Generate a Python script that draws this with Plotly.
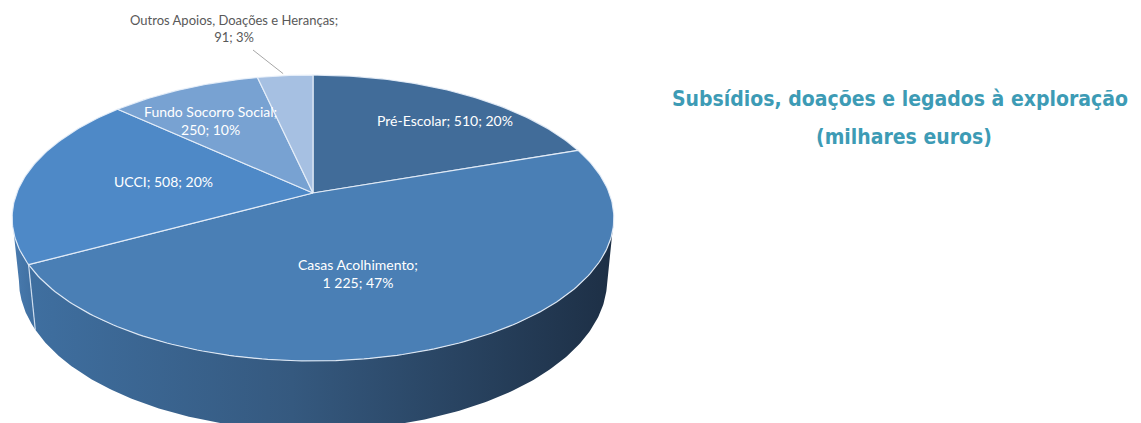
import numpy as np
import plotly.graph_objects as go

# ---- data ----
labels = ["Pré-Escolar", "Casas Acolhimento", "UCCI", "Fundo Socorro Social",
          "Outros Apoios, Doações e Heranças"]
values = [510, 1225, 508, 250, 91]          # milhares de euros
pct_labels = [20, 47, 20, 10, 3]            # percentagens publicadas

# ---- style ----
top_colors = ["#416C99", "#4A7FB5", "#4E89C7", "#78A2D2", "#A6C0E2"]
wall_colors = {
    1: [[0, "#3F6FA0"], [0.45, "#35597F"], [1, "#1D2F45"]],
    2: [[0, "#4A7CB0"], [1, "#3F6E9F"]],
}
label_style = {
    0: dict(x=445, y=120, color="white"),
    1: dict(x=358, y=273, color="white"),
    2: dict(x=163, y=181, color="white"),
    3: dict(x=210, y=120, color="white"),
    4: dict(x=234, y=28, color="#595959"),
}
W, H = 1141, 423

# ---- perspective projection of a tilted disc (pixel space) ----
CX, CY = 313.0, 193.0
R, D, F = 0.198, 1.0, 1496.0
PHI = np.radians(27.9)
THICK = 0.0475


def project(theta, y3):
    theta = np.asarray(theta, dtype=float)
    X = R * np.sin(theta)
    Z = -R * np.cos(theta)
    yv = y3 * np.cos(PHI) - Z * np.sin(PHI)
    zv = y3 * np.sin(PHI) + Z * np.cos(PHI)
    s = F / (D - zv)
    return CX + X * s, CY - yv * s


def silhouette(y3):
    # angles where the projected rim reaches its horizontal extremes
    c0 = D - y3 * np.sin(PHI)
    k = R * np.cos(PHI) / c0
    a = np.arccos(-k)
    return a, 2 * np.pi - a


total = float(sum(values))
bounds = np.concatenate([[0.0], np.cumsum(values) / total]) * 2 * np.pi

fig = go.Figure()

# side wall (front part only)
tR_top, tL_top = silhouette(0.0)
tR_bot, tL_bot = silhouette(-THICK)
for i in range(len(values)):
    a, b = bounds[i], bounds[i + 1]
    at, bt = max(a, tR_top), min(b, tL_top)
    ab, bb = max(a, tR_bot), min(b, tL_bot)
    if at >= bt:
        continue
    th_top = np.linspace(at, bt, 200)
    th_bot = np.linspace(bb, ab, 200)
    xt, yt = project(th_top, 0.0)
    xb, yb = project(th_bot, -THICK)
    xs = np.concatenate([xt, xb, xt[:1]])
    ys = np.concatenate([yt, yb, yt[:1]])
    fig.add_trace(go.Scatter(
        x=xs, y=ys, mode="lines", fill="toself",
        fillgradient=dict(type="horizontal",
                          colorscale=wall_colors.get(i, [[0, top_colors[i]], [1, top_colors[i]]])),
        line=dict(width=0), hoverinfo="skip", showlegend=False))

# light edge where two wall segments meet
for i in range(1, len(values)):
    t = bounds[i]
    if tR_top < t < tL_top:
        x0, y0 = project(t, 0.0)
        x1, y1 = project(t, -THICK)
        fig.add_trace(go.Scatter(x=[x0, x1], y=[y0, y1], mode="lines",
                                 line=dict(color="rgba(225,235,248,0.85)", width=1.2),
                                 hoverinfo="skip", showlegend=False))

# top face slices
for i in range(len(values)):
    a, b = bounds[i], bounds[i + 1]
    th = np.linspace(a, b, max(20, int(400 * (b - a) / (2 * np.pi))))
    xa, ya = project(th, 0.0)
    xs = np.concatenate([[CX], xa, [CX]])
    ys = np.concatenate([[CY], ya, [CY]])
    fig.add_trace(go.Scatter(
        x=xs, y=ys, mode="lines", fill="toself", fillcolor=top_colors[i],
        line=dict(color="rgba(232,240,250,0.9)", width=1.2),
        name=labels[i], hoverinfo="skip", showlegend=False))


def fmt(v):
    return f"{v:,}".replace(",", " ")


# slice labels
texts = {
    0: f"{labels[0]}; {fmt(values[0])}; {pct_labels[0]}%",
    1: f"{labels[1]};<br>{fmt(values[1])}; {pct_labels[1]}%",
    2: f"{labels[2]}; {fmt(values[2])}; {pct_labels[2]}%",
    3: f"{labels[3]};<br>{fmt(values[3])}; {pct_labels[3]}%",
    4: f"{labels[4]};<br>{fmt(values[4])}; {pct_labels[4]}%",
}
for i, st in label_style.items():
    fig.add_annotation(x=st["x"], y=st["y"], xref="x", yref="y", text=texts[i],
                       showarrow=False, align="center",
                       font=dict(family="Lato, Open Sans, sans-serif",
                                 size=14 if i < 4 else 13, color=st["color"]))

# leader line for the small slice
mid = (bounds[4] + bounds[5]) / 2
ex, ey = project(mid, 0.0)
fig.add_trace(go.Scatter(x=[253, ex - 2], y=[50, ey - 2], mode="lines",
                         line=dict(color="#A6A6A6", width=1),
                         hoverinfo="skip", showlegend=False))

# title (two lines)
title_font = dict(family="DejaVu Sans Condensed, sans-serif", size=21,
                  color="#3D9BB5", weight="bold")
fig.add_annotation(x=900, y=99, xref="x", yref="y",
                   text="Subsídios, doações e legados à exploração",
                   showarrow=False, font=title_font)
fig.add_annotation(x=904, y=137, xref="x", yref="y",
                   text="(milhares euros)", showarrow=False, font=title_font)

fig.update_xaxes(range=[0, W], visible=False, fixedrange=True)
fig.update_yaxes(range=[H, 0], visible=False, fixedrange=True)
fig.update_layout(width=W, height=H, margin=dict(l=0, r=0, t=0, b=0),
                  paper_bgcolor="white", plot_bgcolor="white")

fig.write_html("out.html")
